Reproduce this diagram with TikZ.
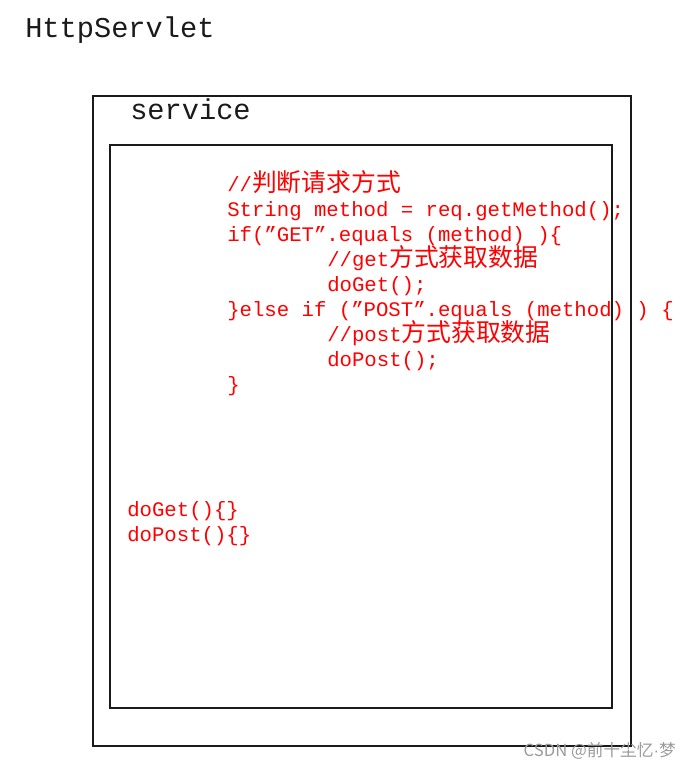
\documentclass[tikz,border=0pt]{standalone}
\usepackage{fontspec}
\usepackage{xcolor}
\setmainfont{Liberation Serif}
\setmonofont{Liberation Mono}
\newfontfamily\cjkfont[Scale=1.2]{Noto Sans CJK SC}
\newfontfamily\markfont{Noto Sans CJK SC}
\newfontfamily\dotfont{Liberation Sans}
\definecolor{CodeRed}{HTML}{FF0000}
\definecolor{FrameBlack}{HTML}{1A1A1A}
\definecolor{MarkGray}{HTML}{9A9A9A}
\tikzset{
    frame/.style={
        draw=FrameBlack,
        line width=1.1pt
    },
    title/.style={
        font=\ttfamily\fontsize{21.5}{21.5}\selectfont,
        text=FrameBlack,
        anchor=base west,
        inner sep=0pt
    },
    codeline/.style={
        font=\ttfamily\fontsize{15.5}{15.5}\selectfont,
        text=CodeRed,
        anchor=base west,
        inner sep=0pt
    },
    watermark/.style={
        font=\markfont\fontsize{12.5}{12.5}\selectfont,
        text=MarkGray,
        anchor=base east,
        inner sep=0pt
    }
}
\begin{document}
\begin{tikzpicture}[x=0.75pt, y=-0.75pt]
        \useasboundingbox (0,0) rectangle (690,769);

        % HttpServlet and its service method
        \node[title] (servlet) at (25,37) {HttpServlet};
        \draw[frame] (93,96) rectangle (631,746);
        \node[title] (service) at (130,119) {service};
        \draw[frame] (110,145) rectangle (612,708);

        % Dispatch by request method
        \node[codeline] (c1) at (227,191) {//{\cjkfont 判断请求方式}};
        \node[codeline] (c2) at (227,216) {String method = req.getMethod();};
        \node[codeline] (c3) at (227,241) {if(”GET”.equals (method) )\{};
        \node[codeline] (c4) at (327,266) {//get{\cjkfont 方式获取数据}};
        \node[codeline] (c5) at (327,291) {doGet();};
        \node[codeline] (c6) at (227,316) {\}else if (”POST”.equals (method) ) \{};
        \node[codeline] (c7) at (327,341) {//post{\cjkfont 方式获取数据}};
        \node[codeline] (c8) at (327,366) {doPost();};
        \node[codeline] (c9) at (227,391) {\}};

        % The two handlers
        \node[codeline] (doget) at (127,516) {doGet()\{\}};
        \node[codeline] (dopost) at (127,541) {doPost()\{\}};

        \node[watermark] (mark) at (676,756) {CSDN @前十尘忆{\dotfont ·}梦};
    \end{tikzpicture}
\end{document}
